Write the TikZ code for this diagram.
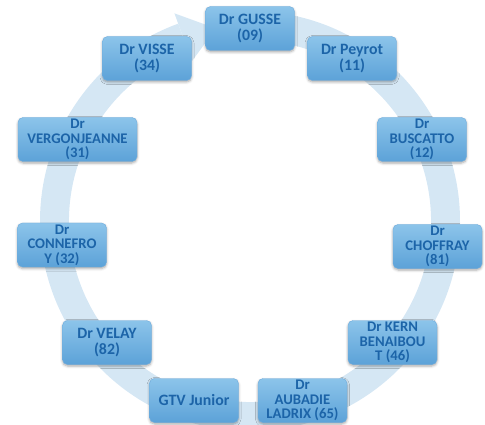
\documentclass[tikz,border=0pt]{standalone}
\usepackage{fontspec}
\setmainfont{Carlito}
\usetikzlibrary{shadows.blur}
\definecolor{ringc}{RGB}{213,231,244}
\definecolor{boxtop}{RGB}{140,196,234}
\definecolor{boxbot}{RGB}{92,162,216}
\definecolor{boxedge}{RGB}{110,172,222}
\definecolor{txtc}{RGB}{28,100,168}
\begin{document}
\begin{tikzpicture}[x=1pt,y=1pt,
  drbox/.style={rectangle, rounded corners=5pt, minimum width=89pt, minimum height=44pt,
    inner sep=0pt, top color=boxtop, bottom color=boxbot, draw=boxedge, line width=0.4pt,
    text=txtc, font=\fontsize{15.8}{16}\selectfont\bfseries, align=center,
    blur shadow={shadow xshift=0pt, shadow yshift=-1.5pt, shadow blur radius=2.5pt, shadow opacity=35}},
  tri/.style={font=\fontsize{14.7}{14.6}\selectfont\bfseries},
  ringfill/.style={fill=ringc}
]
\useasboundingbox (0,0) rectangle (485,-425);
\begin{scope}[shift={(250,-221)}]
  \fill[ringfill] (85:210) arc[start angle=85, end angle=-250, radius=210]
     -- (-250:181) arc[start angle=-250, end angle=85, radius=181] -- cycle;
  \fill[ringfill] (110:221) -- (100:195.5) -- (110:170) -- cycle;
\end{scope}
\node[drbox] (gusse) at (250,-28.5) {Dr GUSSE\\(09)};
\node[drbox] (peyrot) at (352,-58.5) {Dr Peyrot\\(11)};
\node[drbox,tri] (buscatto) at (422,-139.5) {Dr\\BUSCATTO\\(12)};
\node[drbox,tri] (choffray) at (437.5,-246.5) {Dr\\CHOFFRAY\\(81)};
\node[drbox,tri] (kern) at (392.5,-342.5) {Dr KERN\\BENAIBOU\\T (46)};
\node[drbox,tri] (aubadie) at (302.5,-400.5) {Dr\\AUBADIE\\LADRIX (65)};
\node[drbox] (gtv) at (194,-400.5) {GTV Junior};
\node[drbox] (velay) at (107,-342.5) {Dr VELAY\\(82)};
\node[drbox,tri] (connefroy) at (62,-245) {Dr\\CONNEFRO\\Y (32)};
\node[drbox,tri,minimum width=119pt] (vergon) at (77.5,-139.5) {Dr\\VERGONJEANNE\\(31)};
\node[drbox] (visse) at (147,-58.5) {Dr VISSE\\(34)};
\end{tikzpicture}
\end{document}
